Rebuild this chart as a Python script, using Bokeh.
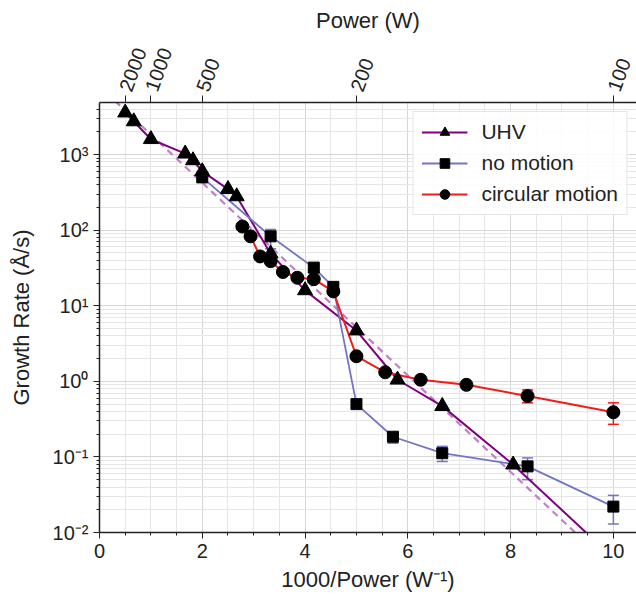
import math
from bokeh.plotting import figure
from bokeh.models import (Range1d, LinearAxis, FixedTicker, SingleIntervalTicker,
                          Whisker, ColumnDataSource, TeeHead, Legend)
from bokeh.embed import file_html
from bokeh.resources import INLINE

# ---------------- data ----------------
uhv_x = [0.5, 0.667, 1.0, 1.667, 1.82, 2.0, 2.5, 2.67, 3.33, 4.0, 5.0, 5.8, 6.67, 8.05, 10.0]
uhv_y = [3600, 2750, 1600, 1030, 840, 600, 350, 280, 49, 16, 4.7, 1.05, 0.47, 0.079, 0.0046]

nom_x = [2.0, 3.33, 4.17, 4.55, 5.0, 5.71, 6.67, 8.33, 10.0]
nom_y = [500, 83, 32, 17.8, 0.5, 0.185, 0.112, 0.075, 0.022]
nom_lo = [440, 57, 29, 16, 0.47, 0.152, 0.087, 0.050, 0.013]
nom_hi = [560, 102, 35, 19.5, 0.53, 0.205, 0.138, 0.097, 0.031]

circ_x = [2.78, 2.94, 3.125, 3.33, 3.57, 3.85, 4.17, 4.55, 5.0, 5.56, 6.25, 7.14, 8.33, 10.0]
circ_y = [112, 83, 45, 39, 28, 23.5, 22.5, 15.5, 2.15, 1.32, 1.05, 0.9, 0.64, 0.39]
circ_lo = [106, 79, 43, 37, 27, 22.5, 21.5, 14.8, 2.05, 1.26, 1.0, 0.86, 0.52, 0.27]
circ_hi = [118, 87, 47, 41, 29, 24.5, 23.5, 16.2, 2.25, 1.38, 1.1, 0.94, 0.77, 0.52]

fit_x = [0.3, 9.5]
fit_y = [5160, 0.0070]

top_ticks = [0.5, 1.0, 2.0, 5.0, 10.0]
top_labels = ["2000", "1000", "500", "200", "100"]

decades = [0.01, 0.1, 1, 10, 100, 1000]
decade_labels = ["10\u207b\u00b2", "10\u207b\u00b9", "10\u2070", "10\u00b9", "10\u00b2", "10\u00b3"]

FONT = "Liberation Sans"
UHV_C = "#800080"
FIT_C = "#c080c8"
NOM_C = "#7474c4"
CIRC_C = "#f01c1c"

p = figure(width=636, height=600, output_backend="svg", toolbar_location=None,
           x_range=Range1d(0, 10.45), y_range=Range1d(0.01, 4900),
           y_axis_type="log", min_border_left=99, min_border_right=0,
           min_border_top=102, min_border_bottom=68)
p.outline_line_color = None
p.background_fill_color = "white"

# grids
p.xaxis.ticker = SingleIntervalTicker(interval=2, num_minor_ticks=4)
minor_y = [d * k for d in [0.01, 0.1, 1, 10, 100, 1000] for k in range(2, 10)]
p.yaxis.ticker = FixedTicker(ticks=decades, minor_ticks=minor_y)
for g in (p.xgrid, p.ygrid):
    g.grid_line_color = "#d6d6d6"
    g.minor_grid_line_color = "#e6e6e6"

# axes style
for ax in (p.xaxis, p.yaxis):
    ax.axis_line_color = "#222222"
    ax.axis_line_width = 1.5
    ax.major_tick_line_color = "#222222"
    ax.minor_tick_line_color = "#222222"
    ax.major_tick_in = 0
    ax.major_tick_out = 6
    ax.minor_tick_in = 0
    ax.minor_tick_out = 3
    ax.major_label_text_font = FONT
    ax.major_label_text_font_size = "20px"
    ax.major_label_text_color = "#222222"
    ax.axis_label_text_font = FONT
    ax.axis_label_text_font_size = "22px"
    ax.axis_label_text_font_style = "normal"
    ax.axis_label_text_color = "#222222"

p.xaxis.axis_label = "1000/Power (W\u207b\u00b9)"
p.yaxis.axis_label = "Growth Rate (\u00c5/s)"
p.yaxis.major_label_overrides = {d: l for d, l in zip(decades, decade_labels)}
p.xaxis.axis_label_standoff = 6
p.yaxis.axis_label_standoff = 16

top = LinearAxis(ticker=FixedTicker(ticks=top_ticks),
                 major_label_overrides={t: l for t, l in zip(top_ticks, top_labels)},
                 axis_label="Power (W)", major_label_orientation=math.radians(70))
top.axis_line_color = "#222222"
top.axis_line_width = 1.5
top.major_tick_line_color = "#222222"
top.major_tick_in = 0
top.major_tick_out = 7
top.minor_tick_line_color = None
top.major_label_text_font = FONT
top.major_label_text_font_size = "20px"
top.major_label_text_color = "#222222"
top.axis_label_text_font = FONT
top.axis_label_text_font_size = "22px"
top.axis_label_text_font_style = "normal"
top.axis_label_text_color = "#222222"
top.axis_label_standoff = 8
p.add_layout(top, "above")

# fit line
p.line(fit_x, fit_y, line_color=FIT_C, line_width=2.2, line_dash="7 5")

# error bars
nom_src = ColumnDataSource(dict(x=nom_x, lo=nom_lo, hi=nom_hi))
circ_src = ColumnDataSource(dict(x=circ_x, lo=circ_lo, hi=circ_hi))
for src, col in ((nom_src, NOM_C), (circ_src, CIRC_C)):
    w = Whisker(source=src, base="x", lower="lo", upper="hi", dimension="height",
                line_color=col, line_width=1.5,
                upper_head=TeeHead(size=11, line_color=col, line_width=1.5),
                lower_head=TeeHead(size=11, line_color=col, line_width=1.5))
    p.add_layout(w)

# series
r1 = p.line(uhv_x, uhv_y, line_color=UHV_C, line_width=2)
r2 = p.line(nom_x, nom_y, line_color=NOM_C, line_width=1.8)
r3 = p.line(circ_x, circ_y, line_color=CIRC_C, line_width=2)
m1 = p.scatter(uhv_x, uhv_y, marker="triangle", size=15, color="black")
m2 = p.scatter(nom_x, nom_y, marker="square", size=11, color="black")
m3 = p.scatter(circ_x, circ_y, marker="circle", size=13, color="black")

legend = Legend(items=[("UHV", [r1, m1]), ("no motion", [r2, m2]),
                       ("circular motion", [r3, m3])],
                location="top_right")
legend.label_text_font = FONT
legend.label_text_font_size = "21px"
legend.label_text_color = "#222222"
legend.glyph_width = 46
legend.glyph_height = 24
legend.label_standoff = 14
legend.spacing = 7
legend.padding = 8
legend.margin = 9
legend.border_line_color = "#cccccc"
legend.border_line_width = 1.5
legend.background_fill_alpha = 0.85
p.add_layout(legend)

open("out.html", "w").write(file_html(p, INLINE))
